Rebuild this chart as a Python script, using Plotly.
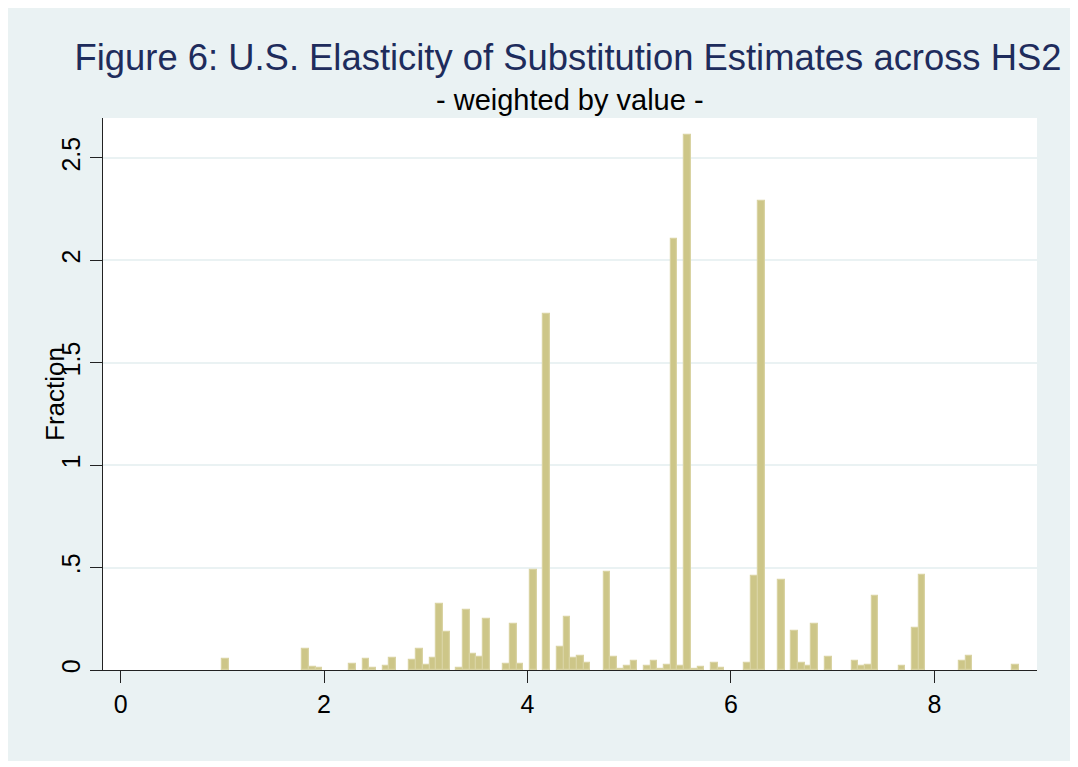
import plotly.graph_objects as go

# Histogram bins (density, weighted by value)
bin_start = 0.995
bin_width = 0.06587
bin_index = [0, 12, 13, 14, 19, 21, 22, 24, 25, 28, 29, 30, 31, 32, 33, 35, 36, 37, 38, 39,
             42, 43, 44, 46, 48, 50, 51, 52, 53, 54, 57, 58, 59, 60, 61, 63, 64, 65, 66, 67,
             68, 69, 70, 71, 73, 74, 78, 79, 80, 83, 85, 86, 87, 88, 90, 94, 95, 96, 97, 101,
             103, 104, 110, 111, 118]
fraction = [0.052, 0.104, 0.014, 0.009, 0.030, 0.055, 0.008, 0.020, 0.058, 0.048, 0.102, 0.025,
            0.061, 0.322, 0.187, 0.008, 0.294, 0.079, 0.063, 0.250, 0.030, 0.224, 0.028, 0.490,
            1.740, 0.112, 0.258, 0.060, 0.069, 0.034, 0.478, 0.063, 0.004, 0.020, 0.043, 0.020,
            0.045, 0.004, 0.025, 2.104, 0.020, 2.612, 0.004, 0.013, 0.034, 0.010, 0.032, 0.460,
            2.288, 0.440, 0.191, 0.034, 0.020, 0.226, 0.063, 0.045, 0.020, 0.022, 0.359, 0.020,
            0.206, 0.463, 0.042, 0.066, 0.022]

x_ticks = [0, 2, 4, 6, 8]
y_ticks = [0, 0.5, 1, 1.5, 2, 2.5]
y_ticktext = ["0", ".5", "1", "1.5", "2", "2.5"]

title_text = "Figure 6: U.S. Elasticity of Substitution Estimates across HS2"
subtitle_text = "- weighted by value -"
y_title = "Fraction"

x_mid = [bin_start + (k + 0.5) * bin_width for k in bin_index]

FONT = "Liberation Sans, Arial, Helvetica, sans-serif"
BG = "#EAF2F3"

fig = go.Figure()
fig.add_trace(go.Bar(
    x=x_mid, y=fraction, width=bin_width,
    marker=dict(color="#CDC688", line=dict(color="#D9D3A2", width=1.2)),
    hoverinfo="x+y",
))

fig.update_layout(
    width=1062, height=753,
    margin=dict(l=95, r=33, t=110, b=91),
    paper_bgcolor=BG, plot_bgcolor="white",
    showlegend=False, bargap=0,
    font=dict(family=FONT, color="black"),
    title=dict(text=title_text, x=(560 - 95) / 934, xref="paper", xanchor="center",
               y=1 - 49 / 753, yref="container", yanchor="middle",
               font=dict(family=FONT, size=36.4, color="#1E2C5C")),
    xaxis=dict(range=[-0.173, 9.009], tickvals=x_ticks, ticks="outside", ticklen=12,
               tickwidth=1.3, tickcolor="#222", showline=True, linecolor="#222", linewidth=1.3,
               showgrid=False, zeroline=False, tickfont=dict(size=25, color="black")),
    yaxis=dict(range=[0, 2.695], tickvals=y_ticks, ticktext=y_ticktext, tickangle=-90,
               ticks="outside", ticklen=12, tickwidth=1.3, tickcolor="#222",
               showline=True, linecolor="#222", linewidth=1.3,
               showgrid=True, gridcolor=BG, gridwidth=2, zeroline=False,
               tickfont=dict(size=25, color="black")),
    annotations=[
        dict(text=subtitle_text, x=0.5, xref="paper", y=(662 - 92) / 552, yref="paper",
             xanchor="center", yanchor="middle", showarrow=False,
             font=dict(family=FONT, size=29, color="black")),
        dict(text=y_title, x=(47 - 95) / 934, xref="paper", y=0.5, yref="paper",
             xanchor="center", yanchor="middle", textangle=-90, showarrow=False,
             font=dict(family=FONT, size=26, color="black")),
    ],
)

fig.write_html("out.html")
